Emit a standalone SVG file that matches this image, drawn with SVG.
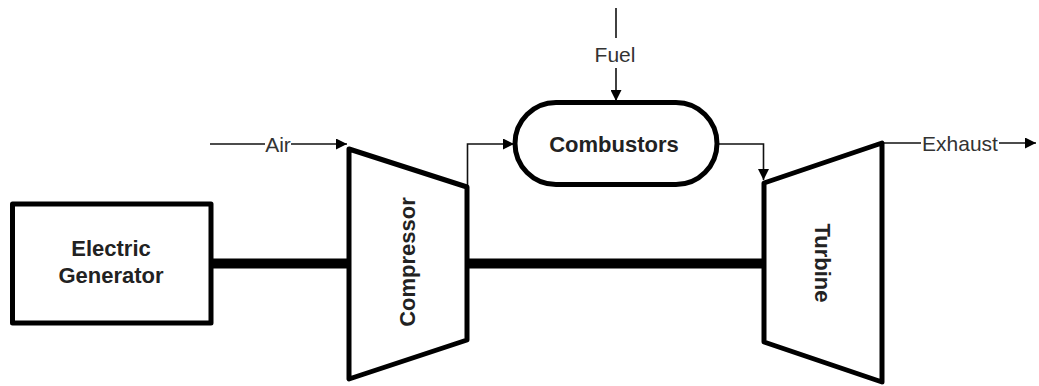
<svg xmlns="http://www.w3.org/2000/svg" width="1039" height="386" viewBox="0 0 1039 386">
<style>
.shape{fill:#fff;stroke:#000;stroke-width:5;stroke-linejoin:round}
.shaft{stroke:#000;stroke-width:10;stroke-linecap:butt}
.flow{fill:none;stroke:#111;stroke-width:1.6}
.bold{font-family:"Liberation Sans",Arial,sans-serif;font-weight:bold;font-size:22px;fill:#222}
.lbl{font-family:"Liberation Sans",Arial,sans-serif;font-size:21px;fill:#333}
</style>
<defs>
<marker id="ah" viewBox="0 0 10 10" refX="10" refY="5" markerWidth="11" markerHeight="11" markerUnits="userSpaceOnUse" orient="auto">
<path d="M0,0 L10,5 L0,10 Z" fill="#000"/>
</marker>
</defs>
<rect width="1039" height="386" fill="#fff"/>
<g id="connectors">
<line class="shaft" x1="211" y1="263.5" x2="350" y2="263.5"/>
<line class="shaft" x1="467" y1="263.5" x2="765" y2="263.5"/>
<circle cx="350" cy="263.5" r="4"/>
<circle cx="467" cy="263.5" r="4"/>
<circle cx="765" cy="263.5" r="4"/>
<line class="flow" x1="210" y1="144" x2="265" y2="144"/>
<line class="flow" x1="291" y1="144" x2="347" y2="144" marker-end="url(#ah)"/>
<polyline class="flow" points="467.5,187 467.5,144 514,144" marker-end="url(#ah)"/>
<line class="flow" x1="616" y1="8" x2="616" y2="38"/>
<line class="flow" x1="616" y1="68" x2="616" y2="101" marker-end="url(#ah)"/>
<polyline class="flow" points="717,144 763.5,144 763.5,180" marker-end="url(#ah)"/>
<line class="flow" x1="882" y1="143" x2="921" y2="143"/>
<line class="flow" x1="999" y1="143" x2="1036" y2="143" marker-end="url(#ah)"/>
<text class="lbl" x="278" y="151.5" text-anchor="middle">Air</text>
<text class="lbl" x="615" y="62" text-anchor="middle">Fuel</text>
<text class="lbl" x="960" y="150.5" text-anchor="middle">Exhaust</text>
</g>
<g id="generator">
<rect class="shape" x="12.5" y="204" width="198.5" height="119"/>
<text class="bold" x="111" y="256" text-anchor="middle">Electric</text>
<text class="bold" x="111" y="283" text-anchor="middle">Generator</text>
</g>
<g id="compressor">
<polygon class="shape" points="349,149 467,187 467,340 349,379"/>
<text class="bold" transform="translate(414.5,262) rotate(-90)" text-anchor="middle">Compressor</text>
</g>
<g id="combustors">
<rect class="shape" x="515" y="102.5" width="202" height="82" rx="41" ry="41"/>
<text class="bold" x="614" y="151.5" text-anchor="middle">Combustors</text>
</g>
<g id="turbine">
<polygon class="shape" points="764,183 882,143 882,382 764,342"/>
<text class="bold" transform="translate(814.5,263) rotate(90)" text-anchor="middle">Turbine</text>
</g>
</svg>
